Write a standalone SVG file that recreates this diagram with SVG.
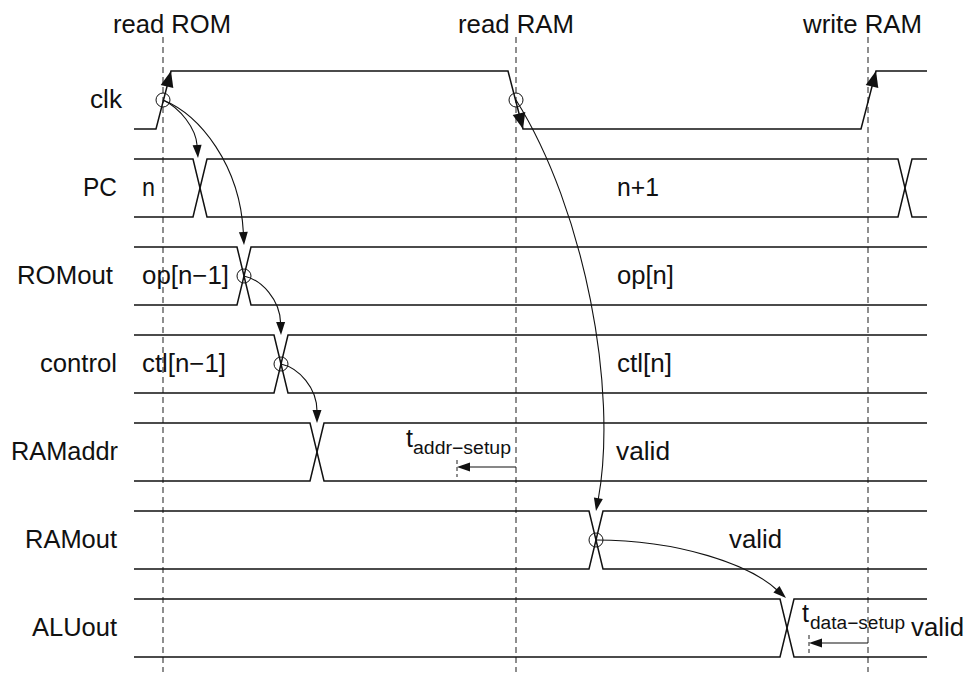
<svg xmlns="http://www.w3.org/2000/svg" width="968" height="682" viewBox="0 0 968 682">
<style>
text{font-family:"Liberation Sans",Arial,sans-serif;font-size:25px;fill:#111}
.sub{font-size:18px}
.sig{fill:none;stroke:#111;stroke-width:1.5;stroke-linejoin:miter}
.dash{fill:none;stroke:#444;stroke-width:1.2;stroke-dasharray:6 4}
.sdash{fill:none;stroke:#444;stroke-width:1.2;stroke-dasharray:4 3}
.cur{fill:none;stroke:#111;stroke-width:1.1}
.ring{fill:none;stroke:#111;stroke-width:1}
.ah{fill:#111;stroke:none}
</style>
<rect width="968" height="682" fill="#fff"/>
<g id="events">
<line class="dash" x1="163" y1="37" x2="163" y2="672"/>
<line class="dash" x1="516" y1="37" x2="516" y2="672"/>
<line class="dash" x1="868" y1="37" x2="868" y2="672"/>
<text x="113" y="33" textLength="118" lengthAdjust="spacingAndGlyphs">read ROM</text>
<text x="458" y="33" textLength="116" lengthAdjust="spacingAndGlyphs">read RAM</text>
<text x="803" y="33" textLength="119" lengthAdjust="spacingAndGlyphs">write RAM</text>
</g>
<g id="clk">
<text x="90" y="108" textLength="32" lengthAdjust="spacingAndGlyphs">clk</text>
<path class="sig" d="M134,129 H156 L171,71 H508 L523,129 H861 L876,71 H927"/>
</g>
<g id="PC">
<text x="83" y="196" textLength="34" lengthAdjust="spacingAndGlyphs">PC</text>
<path class="sig" d="M134,159 H193 L207,217 H898 L912,159 H927"/>
<path class="sig" d="M134,217 H193 L207,159 H898 L912,217 H927"/>
<text x="142" y="196" textLength="13" lengthAdjust="spacingAndGlyphs">n</text>
<text x="617" y="196" textLength="42" lengthAdjust="spacingAndGlyphs">n+1</text>
</g>
<g id="ROMout">
<text x="17" y="284" textLength="96" lengthAdjust="spacingAndGlyphs">ROMout</text>
<path class="sig" d="M134,247 H237 L251,305 H927"/>
<path class="sig" d="M134,305 H237 L251,247 H927"/>
<text x="142" y="284" textLength="87" lengthAdjust="spacingAndGlyphs">op[n−1]</text>
<text x="617" y="284" textLength="57" lengthAdjust="spacingAndGlyphs">op[n]</text>
</g>
<g id="control">
<text x="40" y="372" textLength="77" lengthAdjust="spacingAndGlyphs">control</text>
<path class="sig" d="M134,335 H274 L288,393 H927"/>
<path class="sig" d="M134,393 H274 L288,335 H927"/>
<text x="142" y="372" textLength="84" lengthAdjust="spacingAndGlyphs">ctl[n−1]</text>
<text x="617" y="372" textLength="55" lengthAdjust="spacingAndGlyphs">ctl[n]</text>
</g>
<g id="RAMaddr">
<text x="11" y="460" textLength="107" lengthAdjust="spacingAndGlyphs">RAMaddr</text>
<path class="sig" d="M134,423 H310 L324,481 H927"/>
<path class="sig" d="M134,481 H310 L324,423 H927"/>
<text x="616" y="460" textLength="54" lengthAdjust="spacingAndGlyphs">valid</text>
<text x="406" y="447" textLength="7" lengthAdjust="spacingAndGlyphs">t</text>
<text class="sub" x="413" y="454" textLength="98" lengthAdjust="spacingAndGlyphs">addr−setup</text>
</g>
<g id="RAMout">
<text x="25" y="548" textLength="92" lengthAdjust="spacingAndGlyphs">RAMout</text>
<path class="sig" d="M134,511 H589 L603,569 H927"/>
<path class="sig" d="M134,569 H589 L603,511 H927"/>
<text x="729" y="548" textLength="53" lengthAdjust="spacingAndGlyphs">valid</text>
</g>
<g id="ALUout">
<text x="32" y="636" textLength="85" lengthAdjust="spacingAndGlyphs">ALUout</text>
<path class="sig" d="M134,599 H780 L794,657 H927"/>
<path class="sig" d="M134,657 H780 L794,599 H927"/>
<text x="911" y="636" textLength="53" lengthAdjust="spacingAndGlyphs">valid</text>
<text x="802" y="622" textLength="7" lengthAdjust="spacingAndGlyphs">t</text>
<text class="sub" x="810" y="629" textLength="95" lengthAdjust="spacingAndGlyphs">data−setup</text>
</g>
<g id="connectors">
<circle class="ring" cx="163" cy="100" r="7"/>
<circle class="ring" cx="516" cy="100" r="7"/>
<circle class="ring" cx="244" cy="276" r="7"/>
<circle class="ring" cx="281" cy="364" r="7"/>
<circle class="ring" cx="596" cy="540" r="7"/>
<polygon class="ah" points="171,71 173.3,88.1 160.7,84.9"/>
<polygon class="ah" points="523,129 525.3,111.9 512.7,115.1"/>
<polygon class="ah" points="876,71 878.3,88.1 865.7,84.9"/>
<path class="cur" d="M163,100 C180,108 196,128 197.2,146"/>
<polygon class="ah" points="198,158 201.6,144.7 192.6,145.3"/>
<path class="cur" d="M163,100 C200,115 240,165 243.4,233"/>
<polygon class="ah" points="244,245 247.8,231.8 238.9,232.2"/>
<path class="cur" d="M244,276 C262,280 280,300 280.6,323"/>
<polygon class="ah" points="281,335 285.1,321.9 276.1,322.1"/>
<path class="cur" d="M281,364 C299,368 317,388 317,411"/>
<polygon class="ah" points="317,423 321.5,410 312.5,410"/>
<path class="cur" d="M516,100 C585,210 618,390 598.3,499"/>
<polygon class="ah" points="596,511 602.8,499 593.9,497.4"/>
<path class="cur" d="M596,540 C680,540 750,565 777,590"/>
<polygon class="ah" points="786,598 779.5,585.9 773.4,592.5"/>
<path class="cur" d="M516,467 H469"/>
<polygon class="ah" points="457,467 470,462.5 470,471.5"/>
<line class="sdash" x1="457" y1="460" x2="457" y2="477"/>
<path class="cur" d="M868,643 H821"/>
<polygon class="ah" points="809,643 822,638.5 822,647.5"/>
<line class="sdash" x1="809" y1="635" x2="809" y2="653"/>
</g>
</svg>
